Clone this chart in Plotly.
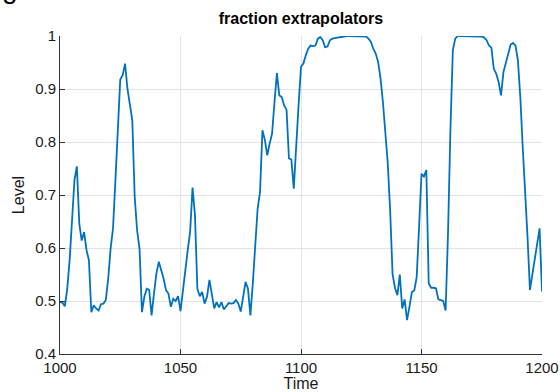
import plotly.graph_objects as go

# Time steps 1000..1200
time = list(range(1000, 1201))

# Fraction of agents using the extrapolation rule at each time step
level = [
    0.498, 0.497, 0.490, 0.523, 0.577, 0.646, 0.728, 0.754, 0.646, 0.614,  # 1000-1009
    0.630, 0.596, 0.577, 0.479, 0.492, 0.486, 0.482, 0.494, 0.495, 0.502,  # 1010-1019
    0.542, 0.599, 0.637, 0.728, 0.828, 0.918, 0.926, 0.948, 0.900, 0.872,  # 1020-1029
    0.841, 0.696, 0.633, 0.599, 0.479, 0.508, 0.523, 0.521, 0.473, 0.514,  # 1030-1039
    0.552, 0.574, 0.558, 0.542, 0.520, 0.514, 0.489, 0.504, 0.500, 0.509,  # 1040-1049
    0.481, 0.520, 0.567, 0.596, 0.631, 0.714, 0.662, 0.523, 0.509, 0.517,  # 1050-1059
    0.495, 0.508, 0.540, 0.508, 0.486, 0.498, 0.488, 0.498, 0.484, 0.490,  # 1060-1069
    0.496, 0.495, 0.496, 0.502, 0.495, 0.480, 0.511, 0.536, 0.523, 0.473,  # 1070-1079
    0.533, 0.608, 0.674, 0.706, 0.822, 0.804, 0.775, 0.797, 0.816, 0.875,  # 1080-1089
    0.930, 0.888, 0.885, 0.869, 0.861, 0.769, 0.767, 0.712, 0.800, 0.870,  # 1090-1099
    0.942, 0.948, 0.964, 0.976, 0.982, 0.981, 0.982, 0.995, 0.998, 0.992,  # 1100-1109
    0.979, 0.980, 0.992, 0.995, 0.996, 0.997, 0.997, 0.998, 1.000, 1.000,  # 1110-1119
    1.000, 1.000, 1.000, 1.000, 1.000, 1.000, 1.000, 0.999, 0.995, 0.989,  # 1120-1129
    0.976, 0.967, 0.951, 0.920, 0.875, 0.815, 0.760, 0.670, 0.550, 0.525,  # 1130-1139
    0.511, 0.550, 0.486, 0.503, 0.464, 0.489, 0.517, 0.520, 0.545, 0.640,  # 1140-1149
    0.740, 0.735, 0.747, 0.533, 0.525, 0.525, 0.524, 0.503, 0.502, 0.500,  # 1150-1159
    0.482, 0.627, 0.822, 0.973, 0.995, 1.000, 1.000, 1.000, 1.000, 1.000,  # 1160-1169
    1.000, 1.000, 1.000, 1.000, 1.000, 0.999, 0.997, 0.992, 0.982, 0.978,  # 1170-1179
    0.938, 0.929, 0.913, 0.888, 0.932, 0.951, 0.970, 0.984, 0.987, 0.982,  # 1180-1189
    0.954, 0.885, 0.790, 0.710, 0.620, 0.521, 0.550, 0.582, 0.614, 0.637,  # 1190-1199
    0.518,                                                                 # 1200
]

x_ticks = [1000, 1050, 1100, 1150, 1200]
y_ticks = [0.4, 0.5, 0.6, 0.7, 0.8, 0.9, 1.0]
y_tick_labels = ["0.4", "0.5", "0.6", "0.7", "0.8", "0.9", "1"]

FONT = "Liberation Sans, Arial, Helvetica, sans-serif"
AXIS_COLOR = "#333333"
GRID_COLOR = "#e3e3e3"

fig = go.Figure()
fig.add_trace(go.Scatter(
    x=time, y=level, mode="lines",
    line=dict(color="#0072BD", width=1.8),
    showlegend=False, hoverinfo="skip",
))

fig.update_layout(
    width=560, height=392,
    margin=dict(l=60, r=18, t=36, b=38),
    paper_bgcolor="white", plot_bgcolor="white",
    font=dict(family=FONT, size=15, color="#1a1a1a"),
    title=dict(
        text="<b>fraction extrapolators</b>",
        x=0.5, xref="paper", xanchor="center",
        y=1 - 18 / 392, yanchor="middle",
        font=dict(family=FONT, size=16, color="#000000"),
    ),
    xaxis=dict(
        range=[1000, 1200], tickvals=x_ticks, automargin=False,
        showgrid=True, gridcolor=GRID_COLOR, gridwidth=1,
        zeroline=False, showline=True, linecolor=AXIS_COLOR, linewidth=1,
        ticks="inside", ticklen=5, tickcolor=AXIS_COLOR,
        tickfont=dict(size=15, color="#1a1a1a"),
        title=dict(text="Time", standoff=0, font=dict(size=16, color="#1a1a1a")),
    ),
    yaxis=dict(
        range=[0.4, 1.0], tickvals=y_ticks, ticktext=y_tick_labels, automargin=False,
        showgrid=True, gridcolor=GRID_COLOR, gridwidth=1,
        zeroline=False, showline=True, linecolor=AXIS_COLOR, linewidth=1,
        ticks="inside", ticklen=5, tickcolor=AXIS_COLOR,
        tickfont=dict(size=15, color="#1a1a1a"),
        title=dict(text="Level", standoff=6, font=dict(size=16, color="#1a1a1a")),
    ),
    annotations=[
        dict(
            text="g", xref="paper", yref="paper",
            x=-0.125, y=1 + (36 - 6) / 318,
            xanchor="left", yanchor="bottom", showarrow=False,
            font=dict(family=FONT, size=28, color="#000000"),
        )
    ],
)

fig.write_html("out.html")
